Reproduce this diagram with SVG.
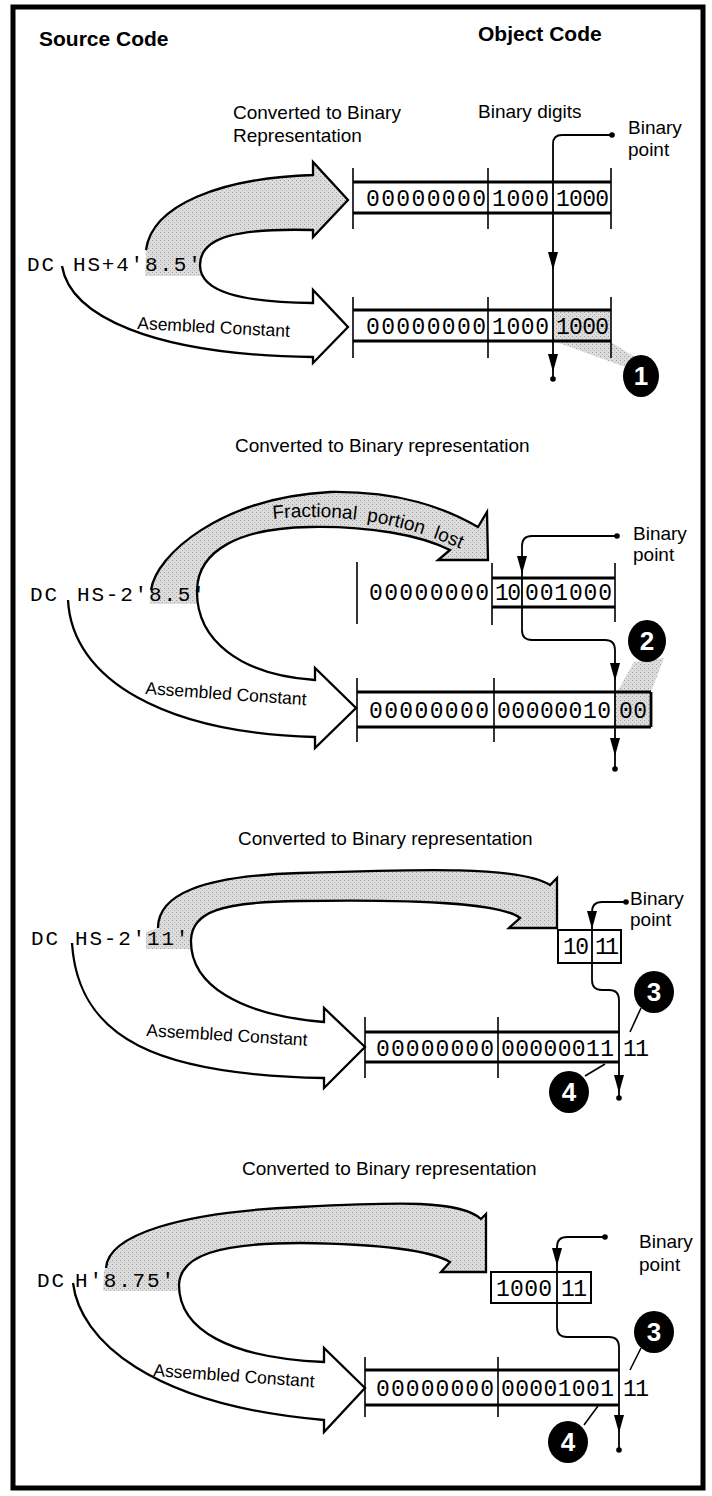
<svg xmlns="http://www.w3.org/2000/svg" width="712" height="1496" viewBox="0 0 712 1496">
<defs>
<style>
.lbl{font-family:"Liberation Sans",Arial,sans-serif;font-size:19px;fill:#000}
.hdr{font-family:"Liberation Sans",Arial,sans-serif;font-size:21px;font-weight:bold;fill:#000}
.asm{font-family:"Liberation Sans",Arial,sans-serif;font-size:17.5px;fill:#000}
.src{font-family:"Liberation Mono","Courier New",monospace;font-size:21px;letter-spacing:1.8px;fill:#000}
.bits{font-family:"Liberation Mono","Courier New",monospace;font-size:23px;fill:#000}
.ln{fill:none;stroke:#000;stroke-width:2.3;stroke-linejoin:miter}
.bl{stroke:#000;stroke-width:2.8}
.tk{stroke:#000;stroke-width:1.6}
.lead{fill:none;stroke:#000;stroke-width:1.8}
.gray{fill:url(#stip)}
.blk{fill:#000}
.num{font-family:"Liberation Sans Narrow","Liberation Sans",Arial,sans-serif;font-weight:bold;font-size:26px;fill:#fff;text-anchor:middle}
</style>
<pattern id="stip" width="4" height="4" patternUnits="userSpaceOnUse">
<rect width="4" height="4" fill="#dcdcdc"/>
<rect x="0" y="0" width="1" height="1" fill="#a0a0a0"/>
<rect x="2" y="2" width="1" height="1" fill="#b4b4b4"/>
</pattern>
<path id="ah" d="M-5 -18 L5 -18 L0 0 Z"/>
</defs>
<rect x="0" y="0" width="712" height="1496" fill="#fff"/>
<rect id="frame" x="13" y="7" width="690" height="1481" fill="none" stroke="#000" stroke-width="5"/>

<g id="headers">
<text class="hdr" x="39" y="46">Source Code</text>
<text class="hdr" x="478" y="41">Object Code</text>
</g>

<g id="gray-fills">
<path class="gray" d="M145 276 L146 250 C152 205 220 178 313 175 L313 162 L348 200 L313 237 L313 230 C240 228 200 236 200 265 L201 276 Z"/>
<rect class="gray" x="553" y="310" width="58" height="31"/>
<polygon class="gray" points="556,342 611,342 636,358 628,368"/>
<path class="gray" d="M150 604 L151 590 C156 555 220 498 330 492 C400 491 445 508 478 527 L487 512 L488 560 L438 560 L450 550 C420 535 370 526 310 527 C240 528 198 550 197 590 L197 604 Z"/>
<rect class="gray" x="615" y="692" width="36" height="35"/>
<polygon class="gray" points="617,692 651,692 664,658 634,662"/>
<path class="gray" d="M146 949 L146 932 L158 928 C158 895 200 876 300 873 C420 869 520 866 550 885 L557 878 L557 928 L509 928 L520 918 C500 903 420 899 300 901 C220 902 192 912 191 940 L191 949 Z"/>
<path class="gray" d="M103 1291 L104 1270 L106 1268 C108 1235 180 1212 300 1207 C400 1202 460 1200 481 1219 L486 1214 L486 1272 L441 1272 L450 1262 C430 1250 380 1244 300 1243 C220 1243 180 1255 179 1285 L179 1291 Z"/>
</g>

<g id="connectors">
<path class="ln" d="M146 250 C152 205 220 178 313 175 L313 162 L348 200 L313 237 L313 230 C240 228 200 236 200 265 C200 292 240 302 313 303 L313 290 L348 327 L313 363 L313 357 C150 355 70 315 62 266"/>
<path class="ln" d="M151 590 C156 555 220 498 330 492 C400 491 445 508 478 527 L487 512 L488 560 L438 560 L450 550 C420 535 370 526 310 527 C240 528 198 550 197 590 C196 640 240 675 315 680 L315 668 L356 708 L315 748 L315 737 C165 733 72 680 68 600"/>
<path class="ln" d="M158 928 C158 895 200 876 300 873 C420 869 520 866 550 885 L557 878 L557 928 L509 928 L520 918 C500 903 420 899 300 901 C220 902 192 912 191 940 C190 985 240 1015 324 1022 L324 1008 L365 1047 L324 1088 L324 1078 C160 1075 78 1040 72 943"/>
<path class="ln" d="M106 1268 C108 1235 180 1212 300 1207 C400 1202 460 1200 481 1219 L486 1214 L486 1272 L441 1272 L450 1262 C430 1250 380 1244 300 1243 C220 1243 180 1255 179 1285 C179 1330 230 1358 324 1362 L324 1348 L365 1388 L324 1432 L324 1420 C150 1405 80 1340 73 1283"/>
<path class="lead" d="M612 135 L562 135 Q553 135 553 144 L553 378"/>
<path class="lead" d="M617 536 L532 536 Q522 536 522 546 L522 630 Q522 640 532 640 L605 640 Q615 640 615 650 L615 768"/>
<path class="lead" d="M626 902 L602 902 Q592 902 592 912 L592 980 Q592 990 602 990 L609 990 Q619 990 619 1000 L619 1097"/>
<path class="lead" d="M605 1237 L567 1237 Q557 1237 557 1247 L557 1327 Q557 1337 567 1337 L609 1337 Q619 1337 619 1347 L619 1449"/>
<g class="blk">
<circle cx="612" cy="135" r="2.8"/><circle cx="553" cy="379" r="2.8"/>
<use href="#ah" x="553" y="270"/><use href="#ah" x="553" y="372"/>
<circle cx="617" cy="536" r="2.8"/><circle cx="615" cy="769" r="2.8"/>
<use href="#ah" x="522" y="574"/><use href="#ah" x="615" y="681"/><use href="#ah" x="615" y="756"/>
<circle cx="626" cy="902" r="2.8"/><circle cx="619" cy="1098" r="2.8"/>
<use href="#ah" x="592" y="929"/><use href="#ah" x="619" y="1093"/>
<circle cx="605" cy="1237" r="2.8"/><circle cx="619" cy="1450" r="2.8"/>
<use href="#ah" x="557" y="1266"/><use href="#ah" x="619" y="1433"/>
</g>
<line class="tk" x1="641" y1="1008" x2="630" y2="1032"/>
<line class="tk" x1="585" y1="1076" x2="605" y2="1064"/>
<line class="tk" x1="641" y1="1348" x2="630" y2="1370"/>
<line class="tk" x1="584" y1="1425" x2="598" y2="1406"/>
</g>

<g id="s1-labels">
<text class="lbl" x="233" y="119">Converted to Binary</text>
<text class="lbl" x="233" y="142">Representation</text>
<text class="lbl" x="478" y="118">Binary digits</text>
<text class="lbl" x="628" y="134">Binary</text>
<text class="lbl" x="628" y="156">point</text>
<text class="asm" x="137" y="329" transform="rotate(3 137 329)">Asembled Constant</text>
</g>
<g id="s1-source">
<text class="src" x="27" y="271">DC</text>
<text class="src" x="73" y="271">HS+4'8.5'</text>
</g>
<g id="s1-box1">
<line class="bl" x1="353" y1="182" x2="611" y2="182"/>
<line class="bl" x1="353" y1="213" x2="611" y2="213"/>
<line class="tk" x1="353" y1="168" x2="353" y2="229"/>
<line class="tk" x1="488" y1="168" x2="488" y2="229"/>
<line class="tk" x1="611" y1="168" x2="611" y2="229"/>
<text class="bits" x="366" y="206" textLength="120" lengthAdjust="spacing">00000000</text>
<text class="bits" x="492" y="206" textLength="57" lengthAdjust="spacing">1000</text>
<text class="bits" x="556" y="206" textLength="53" lengthAdjust="spacing">1000</text>
</g>
<g id="s1-box2">
<line class="bl" x1="353" y1="310" x2="611" y2="310"/>
<line class="bl" x1="353" y1="341" x2="611" y2="341"/>
<line class="tk" x1="353" y1="297" x2="353" y2="358"/>
<line class="tk" x1="488" y1="297" x2="488" y2="358"/>
<line class="tk" x1="611" y1="297" x2="611" y2="358"/>
<text class="bits" x="366" y="334" textLength="120" lengthAdjust="spacing">00000000</text>
<text class="bits" x="492" y="334" textLength="57" lengthAdjust="spacing">1000</text>
<text class="bits" x="556" y="334" textLength="53" lengthAdjust="spacing">1000</text>
</g>
<g id="s1-callout1">
<ellipse class="blk" cx="641" cy="376" rx="18" ry="21"/>
<text class="num" x="641" y="385">1</text>
</g>

<g id="s2-labels">
<text class="lbl" x="235" y="452">Converted to Binary representation</text>
<path id="p2" d="M273 519 Q380 508 478 557" fill="none"/>
<text class="lbl" word-spacing="5"><textPath href="#p2">Fractional portion lost</textPath></text>
<text class="lbl" x="633" y="540">Binary</text>
<text class="lbl" x="633" y="561">point</text>
<text class="asm" x="145" y="694" transform="rotate(4 145 694)">Assembled Constant</text>
</g>
<g id="s2-source">
<text class="src" x="30" y="601">DC</text>
<text class="src" x="77" y="601">HS-2'8.5'</text>
</g>
<g id="s2-box1">
<line class="tk" x1="357" y1="562" x2="357" y2="624"/>
<text class="bits" x="369" y="600" textLength="120" lengthAdjust="spacing">00000000</text>
<line class="bl" x1="492" y1="578" x2="615" y2="578"/>
<line class="bl" x1="492" y1="607" x2="615" y2="607"/>
<line class="tk" x1="492" y1="563" x2="492" y2="625"/>
<line class="tk" x1="615" y1="563" x2="615" y2="622"/>
<text class="bits" x="495" y="600" textLength="26" lengthAdjust="spacing">10</text>
<text class="bits" x="525" y="600" textLength="87" lengthAdjust="spacing">001000</text>
</g>
<g id="s2-box2">
<line class="bl" x1="357" y1="692" x2="651" y2="692"/>
<line class="bl" x1="357" y1="727" x2="651" y2="727"/>
<line class="bl" x1="651" y1="692" x2="651" y2="727"/>
<line class="tk" x1="357" y1="678" x2="357" y2="742"/>
<line class="tk" x1="494" y1="678" x2="494" y2="742"/>
<text class="bits" x="369" y="718" textLength="120" lengthAdjust="spacing">00000000</text>
<text class="bits" x="497" y="718" textLength="114" lengthAdjust="spacing">00000010</text>
<text class="bits" x="619" y="718" textLength="28" lengthAdjust="spacing">00</text>
</g>
<g id="s2-callout2">
<ellipse class="blk" cx="647" cy="641" rx="19" ry="21"/>
<text class="num" x="647" y="650">2</text>
</g>

<g id="s3-labels">
<text class="lbl" x="238" y="845">Converted to Binary representation</text>
<text class="lbl" x="630" y="905">Binary</text>
<text class="lbl" x="630" y="926">point</text>
<text class="asm" x="146" y="1036" transform="rotate(3.5 146 1036)">Assembled Constant</text>
</g>
<g id="s3-source">
<text class="src" x="31" y="945">DC</text>
<text class="src" x="75" y="945">HS-2'11'</text>
</g>
<g id="s3-box1">
<rect x="558" y="930" width="63" height="33" fill="none" stroke="#000" stroke-width="2"/>
<text class="bits" x="563" y="954" textLength="26" lengthAdjust="spacing">10</text>
<text class="bits" x="595" y="954" textLength="24" lengthAdjust="spacing">11</text>
</g>
<g id="s3-box2">
<line class="bl" x1="365" y1="1032" x2="619" y2="1032"/>
<line class="bl" x1="365" y1="1062" x2="619" y2="1062"/>
<line class="tk" x1="365" y1="1017" x2="365" y2="1078"/>
<line class="tk" x1="498" y1="1017" x2="498" y2="1078"/>
<text class="bits" x="376" y="1056" textLength="118" lengthAdjust="spacing">00000000</text>
<text class="bits" x="501" y="1056" textLength="113" lengthAdjust="spacing">00000011</text>
<text class="bits" x="623" y="1056" textLength="26" lengthAdjust="spacing">11</text>
</g>
<g id="s3-callout3">
<ellipse class="blk" cx="654" cy="992" rx="20" ry="21"/>
<text class="num" x="654" y="1001">3</text>
</g>
<g id="s3-callout4">
<ellipse class="blk" cx="569" cy="1092" rx="20" ry="21"/>
<text class="num" x="569" y="1101">4</text>
</g>

<g id="s4-labels">
<text class="lbl" x="242" y="1175">Converted to Binary representation</text>
<text class="lbl" x="639" y="1248">Binary</text>
<text class="lbl" x="639" y="1271">point</text>
<text class="asm" x="153" y="1376" transform="rotate(4 153 1376)">Assembled Constant</text>
</g>
<g id="s4-source">
<text class="src" x="37" y="1287">DC</text>
<text class="src" x="75" y="1287">H'8.75'</text>
</g>
<g id="s4-box1">
<rect x="491" y="1272" width="100" height="31" fill="none" stroke="#000" stroke-width="2"/>
<text class="bits" x="496" y="1296" textLength="56" lengthAdjust="spacing">1000</text>
<text class="bits" x="561" y="1296" textLength="26" lengthAdjust="spacing">11</text>
</g>
<g id="s4-box2">
<line class="bl" x1="365" y1="1370" x2="619" y2="1370"/>
<line class="bl" x1="365" y1="1405" x2="619" y2="1405"/>
<line class="tk" x1="365" y1="1357" x2="365" y2="1417"/>
<line class="tk" x1="498" y1="1357" x2="498" y2="1417"/>
<text class="bits" x="376" y="1396" textLength="118" lengthAdjust="spacing">00000000</text>
<text class="bits" x="501" y="1396" textLength="113" lengthAdjust="spacing">00001001</text>
<text class="bits" x="623" y="1396" textLength="26" lengthAdjust="spacing">11</text>
</g>
<g id="s4-callout3">
<ellipse class="blk" cx="654" cy="1332" rx="20" ry="21"/>
<text class="num" x="654" y="1341">3</text>
</g>
<g id="s4-callout4">
<ellipse class="blk" cx="568" cy="1442" rx="20" ry="21"/>
<text class="num" x="568" y="1451">4</text>
</g>
</svg>
